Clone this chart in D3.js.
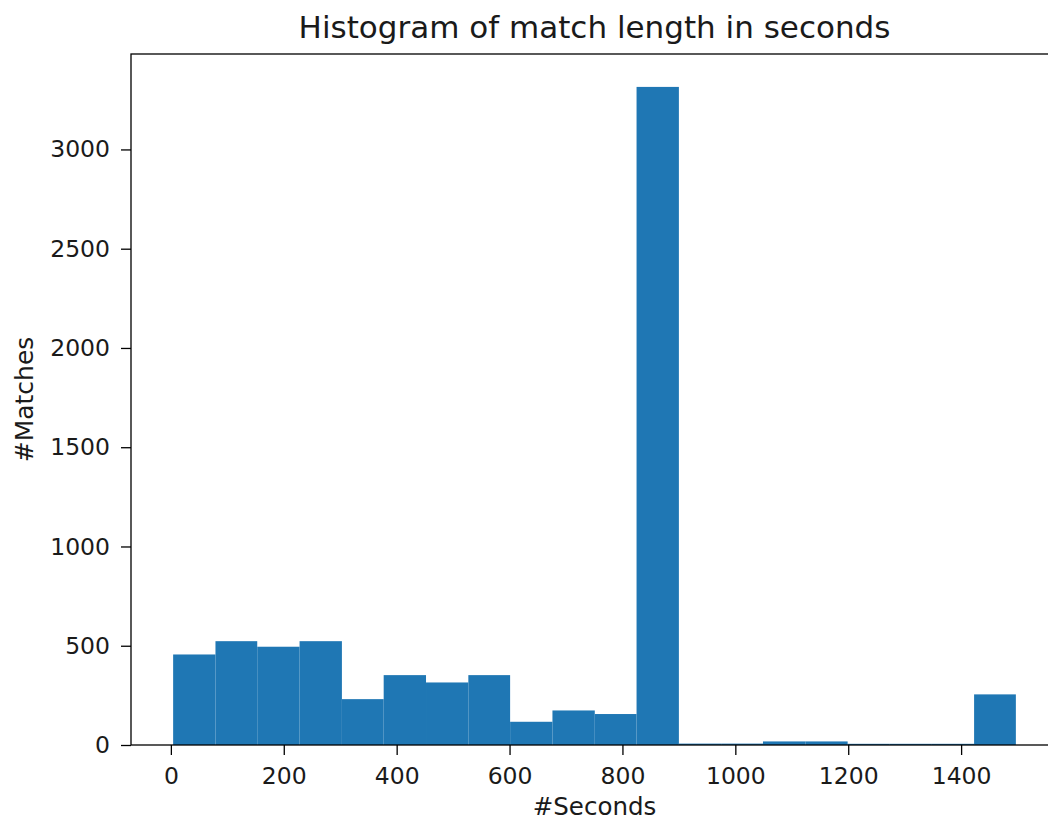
<!doctype html>
<html lang="en">

<head>
  <meta charset="utf-8">
  <title>Histogram of match length in seconds</title>
  <script src="https://cdn.jsdelivr.net/npm/d3@7"></script>
  <style>
    body {
      margin: 0;
      background: #fff;
    }

    svg text {
      font-family: "DejaVu Sans", sans-serif;
      fill: #1a1a1a;
    }
  </style>
</head>

<body>
  <div id="my_dataviz"></div>

  <script>
    // bin edges (seconds) and counts per bin
    var binEdges = [4, 79, 153, 228, 303, 377, 452, 527, 601, 676, 751,
      825, 900, 975, 1049, 1124, 1199, 1273, 1348, 1423, 1497];
    var counts = [456, 523, 495, 523, 231, 352, 315, 352, 117, 174,
      156, 3315, 7, 7, 18, 18, 6, 6, 6, 255];
    var xTicks = [0, 200, 400, 600, 800, 1000, 1200, 1400];
    var yTicks = [0, 500, 1000, 1500, 2000, 2500, 3000];

    var titleText = "Histogram of match length in seconds";
    var xLabel = "#Seconds";
    var yLabel = "#Matches";

    // plot area in page pixels (right edge runs past the window, like the picture)
    var margin = { top: 54, left: 131 },
      plotW = 927,
      plotH = 691;

    var bins = counts.map(function (c, i) {
      return { x0: binEdges[i], x1: binEdges[i + 1], n: c };
    });

    var svg = d3.select("#my_dataviz")
      .append("svg")
      .attr("width", 1048)
      .attr("height", 821);

    var g = svg.append("g")
      .attr("transform", "translate(" + margin.left + "," + margin.top + ")");

    // matplotlib style 5% padding on x, top padding on y
    var lo = d3.min(binEdges), hi = d3.max(binEdges), pad = (hi - lo) * 0.05;
    var x = d3.scaleLinear()
      .domain([lo - pad, hi + pad])
      .range([0, plotW]);

    var y = d3.scaleLinear()
      .domain([0, d3.max(counts) * 1.05])
      .range([plotH, 0]);

    // bars
    g.append("g")
      .selectAll("rect")
      .data(bins)
      .enter()
      .append("rect")
      .attr("x", function (d) { return x(d.x0); })
      .attr("width", function (d) { return x(d.x1) - x(d.x0); })
      .attr("y", function (d) { return y(d.n); })
      .attr("height", function (d) { return y(0) - y(d.n); })
      .style("fill", "#1f77b4");

    // axes
    var xAxis = g.append("g")
      .attr("transform", "translate(0," + plotH + ")")
      .call(d3.axisBottom(x).tickValues(xTicks).tickSize(10).tickPadding(12).tickFormat(d3.format("d")));

    var yAxis = g.append("g")
      .call(d3.axisLeft(y).tickValues(yTicks).tickSize(10).tickPadding(11).tickFormat(d3.format("d")));

    [xAxis, yAxis].forEach(function (a) {
      a.select(".domain").remove();
      a.selectAll("line").style("stroke", "#000").style("stroke-width", 1.3);
      a.selectAll("text")
        .style("font-size", "23.5px")
        .style("font-family", "DejaVu Sans")
        .style("fill", "#1a1a1a");
    });

    // frame (spines)
    g.append("rect")
      .attr("x", 0)
      .attr("y", 0)
      .attr("width", plotW)
      .attr("height", plotH)
      .style("fill", "none")
      .style("stroke", "#000")
      .style("stroke-width", 1.3);

    // title and labels
    svg.append("text")
      .attr("x", margin.left + plotW / 2)
      .attr("y", 37.5)
      .attr("text-anchor", "middle")
      .style("font-size", "31px")
      .text(titleText);

    svg.append("text")
      .attr("x", margin.left + plotW / 2)
      .attr("y", 815)
      .attr("text-anchor", "middle")
      .style("font-size", "24.5px")
      .text(xLabel);

    svg.append("text")
      .attr("transform", "translate(33," + (margin.top + plotH / 2) + ") rotate(-90)")
      .attr("text-anchor", "middle")
      .style("font-size", "25px")
      .text(yLabel);
  </script>
</body>

</html>
